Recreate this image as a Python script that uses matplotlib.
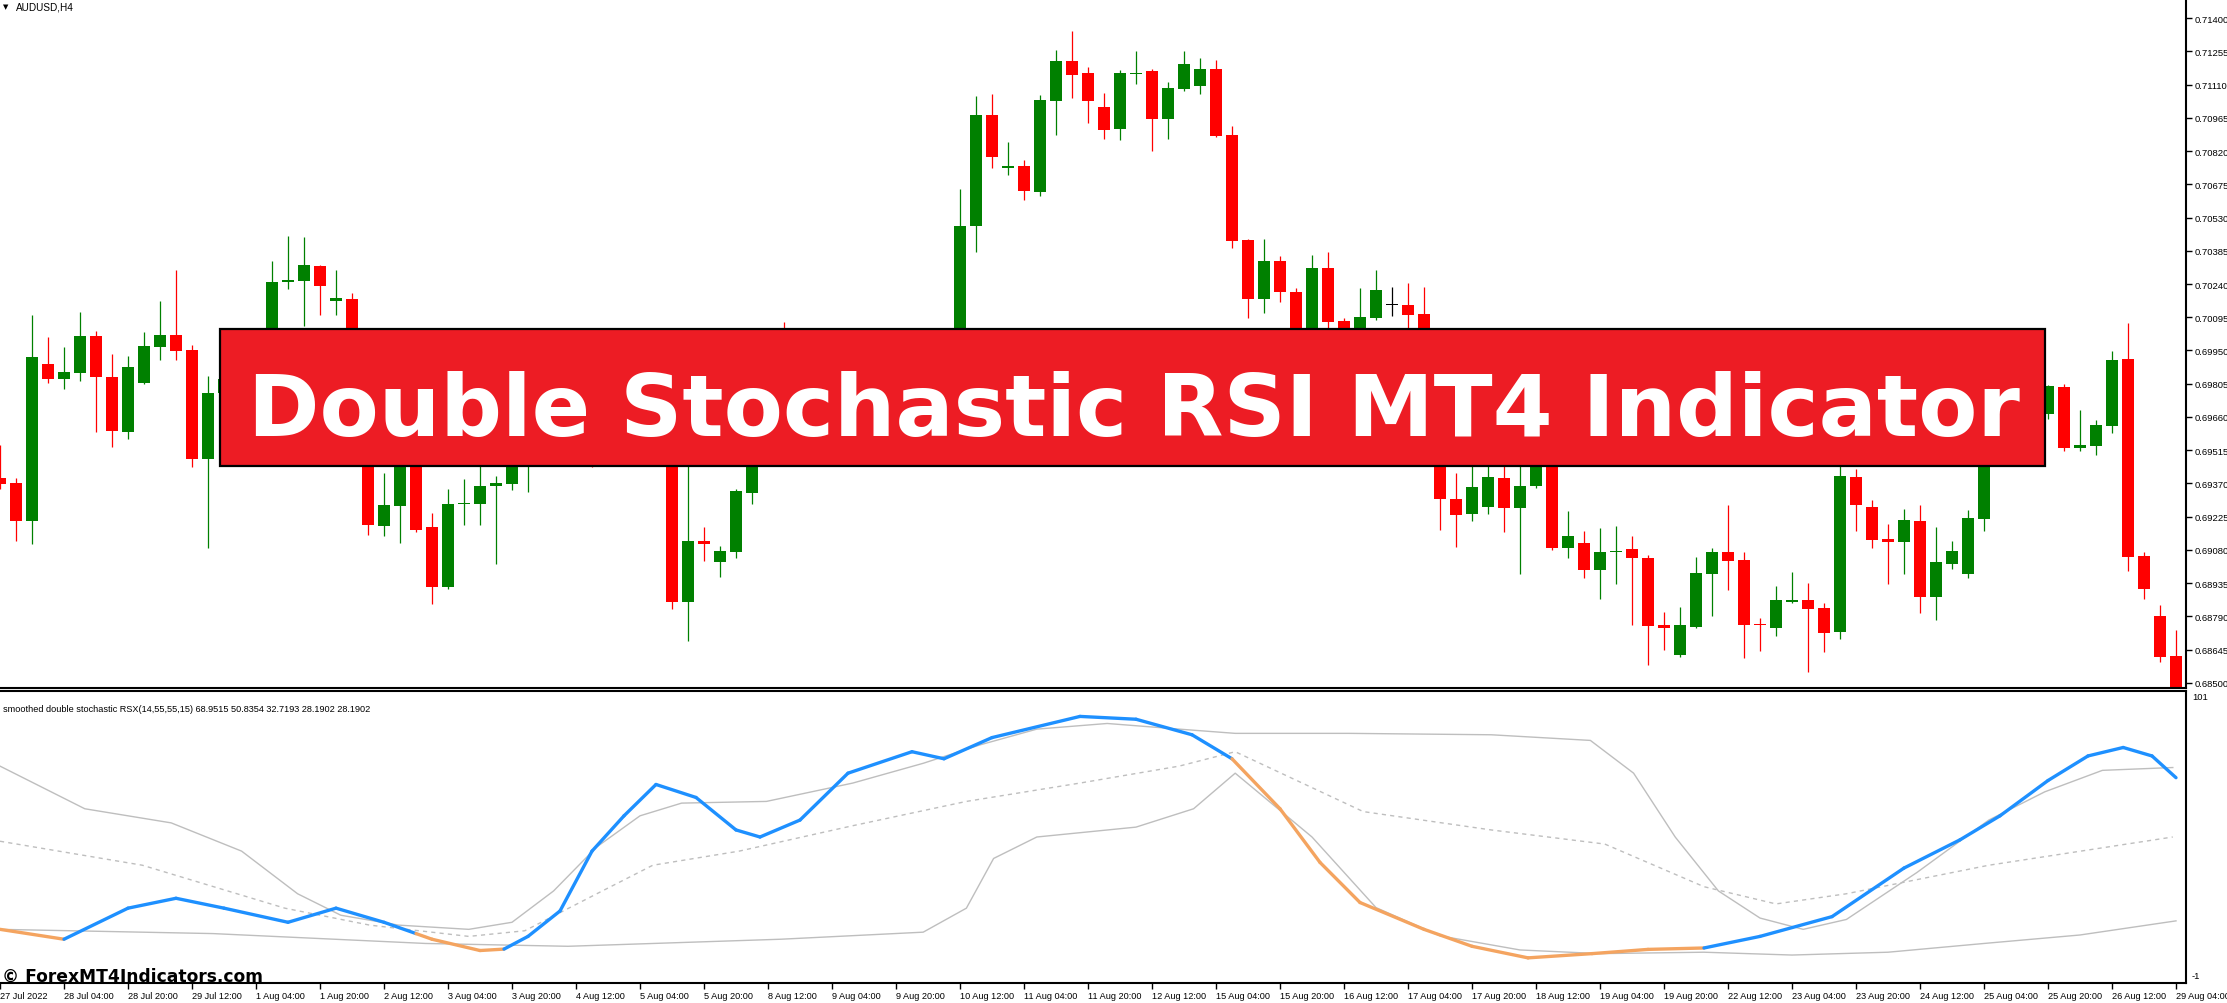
import numpy as np
import matplotlib
matplotlib.use('Agg')
import matplotlib.pyplot as plt
from matplotlib.patches import Rectangle
from matplotlib.collections import LineCollection

plt.rcParams['font.family'] = ['Liberation Sans', 'DejaVu Sans']

# AUDUSD H4, 27 Jul 2022 12:00 -> 29 Aug 2022 04:00 (137 bars)
opens = [0.69395, 0.69373, 0.69207, 0.69892, 0.69826, 0.69852, 0.70014, 0.69835, 0.69595, 0.69809,
         0.69966, 0.70018, 0.69953, 0.69477, 0.69765, 0.69826, 0.69913, 0.70001, 0.70249, 0.70254,
         0.70319, 0.70166, 0.70175, 0.69892, 0.69185, 0.69273, 0.69521, 0.69181, 0.68919, 0.69281,
         0.69281, 0.69360, 0.69368, 0.69499, 0.69608, 0.69543, 0.69674, 0.69739, 0.69652, 0.69783,
         0.69870, 0.69935, 0.69905, 0.68854, 0.69120, 0.69028, 0.69072, 0.69329, 0.69565, 0.69652,
         0.69565, 0.69695, 0.69761, 0.69695, 0.69826, 0.69761, 0.69870, 0.69804, 0.69913, 0.69848,
         0.69957, 0.70493, 0.70977, 0.70746, 0.70755, 0.70642, 0.71038, 0.71213, 0.71160, 0.71012,
         0.70916, 0.71156, 0.71169, 0.70960, 0.71091, 0.71104, 0.71178, 0.70890, 0.70432, 0.70175,
         0.70341, 0.70206, 0.69979, 0.70310, 0.70079, 0.69979, 0.70092, 0.70149, 0.70149, 0.70110,
         0.69826, 0.69303, 0.69238, 0.69268, 0.69395, 0.69264, 0.69360, 0.69565, 0.69089, 0.69111,
         0.68993, 0.69072, 0.69085, 0.69046, 0.68754, 0.68623, 0.68745, 0.68976, 0.69072, 0.69037,
         0.68758, 0.68741, 0.68854, 0.68863, 0.68828, 0.68723, 0.69399, 0.69268, 0.69129, 0.69116,
         0.69207, 0.68876, 0.69020, 0.68976, 0.69216, 0.69652, 0.69717, 0.69630, 0.69674, 0.69791,
         0.69525, 0.69534, 0.69621, 0.69913, 0.69054, 0.68793, 0.68619]
highs = [0.69538, 0.69395, 0.70105, 0.70009, 0.69966, 0.70118, 0.70035, 0.69935, 0.69926, 0.70031,
         0.70166, 0.70301, 0.69974, 0.69839, 0.69870, 0.69979, 0.70022, 0.70341, 0.70450, 0.70445,
         0.70323, 0.70301, 0.70201, 0.69922, 0.69416, 0.69565, 0.69543, 0.69242, 0.69347, 0.69390,
         0.69477, 0.69403, 0.69543, 0.69652, 0.69652, 0.69717, 0.69804, 0.69761, 0.69826, 0.69935,
         0.69979, 0.69992, 0.69957, 0.69447, 0.69181, 0.69098, 0.69347, 0.69608, 0.69695, 0.70075,
         0.69761, 0.69804, 0.69826, 0.69870, 0.69892, 0.69913, 0.69935, 0.69979, 0.69957, 0.70009,
         0.70655, 0.71060, 0.71069, 0.70860, 0.70781, 0.71064, 0.71261, 0.71344, 0.71187, 0.71073,
         0.71173, 0.71256, 0.71178, 0.71121, 0.71256, 0.71226, 0.71217, 0.70929, 0.70437, 0.70437,
         0.70363, 0.70223, 0.70367, 0.70380, 0.70092, 0.70223, 0.70301, 0.70227, 0.70245, 0.70227,
         0.69870, 0.69416, 0.69499, 0.69456, 0.69477, 0.69499, 0.69608, 0.69600, 0.69251, 0.69163,
         0.69177, 0.69185, 0.69142, 0.69059, 0.68810, 0.68832, 0.69050, 0.69089, 0.69277, 0.69072,
         0.68784, 0.68924, 0.68985, 0.68937, 0.68850, 0.69477, 0.69434, 0.69299, 0.69194, 0.69259,
         0.69277, 0.69181, 0.69120, 0.69255, 0.69695, 0.69761, 0.69748, 0.69717, 0.69800, 0.69804,
         0.69691, 0.69647, 0.69948, 0.70070, 0.69072, 0.68841, 0.68732]
lows = [0.69347, 0.69120, 0.69107, 0.69809, 0.69783, 0.69817, 0.69595, 0.69530, 0.69565, 0.69804,
        0.69909, 0.69909, 0.69442, 0.69089, 0.69695, 0.69761, 0.69848, 0.69957, 0.70219, 0.70057,
        0.70105, 0.70105, 0.69861, 0.69146, 0.69142, 0.69111, 0.69159, 0.68845, 0.68911, 0.69190,
        0.69190, 0.69020, 0.69342, 0.69333, 0.69499, 0.69512, 0.69630, 0.69442, 0.69608, 0.69748,
        0.69826, 0.69861, 0.68823, 0.68684, 0.69033, 0.68963, 0.69046, 0.69281, 0.69521, 0.69530,
        0.69512, 0.69630, 0.69652, 0.69674, 0.69739, 0.69717, 0.69761, 0.69774, 0.69804, 0.69817,
        0.69913, 0.70380, 0.70746, 0.70716, 0.70607, 0.70624, 0.70890, 0.71051, 0.70942, 0.70873,
        0.70868, 0.71112, 0.70820, 0.70873, 0.71082, 0.71069, 0.70881, 0.70397, 0.70092, 0.70114,
        0.70162, 0.69935, 0.69948, 0.70044, 0.69948, 0.69957, 0.70083, 0.70101, 0.70001, 0.69804,
        0.69168, 0.69094, 0.69207, 0.69238, 0.69159, 0.68976, 0.69351, 0.69081, 0.69046, 0.68959,
        0.68867, 0.68932, 0.68754, 0.68579, 0.68645, 0.68614, 0.68741, 0.68793, 0.68906, 0.68610,
        0.68640, 0.68706, 0.68850, 0.68549, 0.68636, 0.68693, 0.69163, 0.69089, 0.68932, 0.68976,
        0.68806, 0.68775, 0.68998, 0.68959, 0.69163, 0.69608, 0.69586, 0.69565, 0.69652, 0.69512,
        0.69512, 0.69495, 0.69591, 0.68989, 0.68867, 0.68592, 0.68470]
closes = [0.69368, 0.69207, 0.69922, 0.69826, 0.69857, 0.70014, 0.69835, 0.69600, 0.69878, 0.69970,
          0.70018, 0.69948, 0.69477, 0.69765, 0.69826, 0.69913, 0.70001, 0.70249, 0.70258, 0.70323,
          0.70232, 0.70179, 0.69892, 0.69190, 0.69277, 0.69521, 0.69168, 0.68919, 0.69281, 0.69286,
          0.69360, 0.69373, 0.69499, 0.69608, 0.69543, 0.69674, 0.69739, 0.69652, 0.69783, 0.69870,
          0.69935, 0.69905, 0.68854, 0.69120, 0.69107, 0.69076, 0.69338, 0.69565, 0.69652, 0.69565,
          0.69695, 0.69761, 0.69695, 0.69826, 0.69761, 0.69870, 0.69804, 0.69913, 0.69848, 0.69957,
          0.70493, 0.70977, 0.70794, 0.70755, 0.70646, 0.71043, 0.71213, 0.71152, 0.71038, 0.70912,
          0.71160, 0.71160, 0.70960, 0.71095, 0.71200, 0.71178, 0.70886, 0.70428, 0.70175, 0.70341,
          0.70206, 0.69979, 0.70310, 0.70075, 0.69979, 0.70096, 0.70214, 0.70149, 0.70105, 0.69826,
          0.69303, 0.69233, 0.69355, 0.69399, 0.69264, 0.69360, 0.69565, 0.69089, 0.69142, 0.68993,
          0.69072, 0.69076, 0.69046, 0.68749, 0.68741, 0.68754, 0.68980, 0.69072, 0.69033, 0.68754,
          0.68754, 0.68863, 0.68863, 0.68823, 0.68719, 0.69403, 0.69277, 0.69124, 0.69116, 0.69211,
          0.68876, 0.69028, 0.69076, 0.69220, 0.69652, 0.69717, 0.69630, 0.69674, 0.69796, 0.69525,
          0.69538, 0.69626, 0.69909, 0.69050, 0.68911, 0.68614, 0.68470]

price_ticks = [0.68500, 0.68645, 0.68790, 0.68935, 0.69080, 0.69225, 0.69370, 0.69515, 0.69660,
               0.69805, 0.69950, 0.70095, 0.70240, 0.70385, 0.70530, 0.70675, 0.70820, 0.70965,
               0.71110, 0.71255, 0.71400]

time_labels = ['27 Jul 2022', '28 Jul 04:00', '28 Jul 20:00', '29 Jul 12:00', '1 Aug 04:00',
               '1 Aug 20:00', '2 Aug 12:00', '3 Aug 04:00', '3 Aug 20:00', '4 Aug 12:00',
               '5 Aug 04:00', '5 Aug 20:00', '8 Aug 12:00', '9 Aug 04:00', '9 Aug 20:00',
               '10 Aug 12:00', '11 Aug 04:00', '11 Aug 20:00', '12 Aug 12:00', '15 Aug 04:00',
               '15 Aug 20:00', '16 Aug 12:00', '17 Aug 04:00', '17 Aug 20:00', '18 Aug 12:00',
               '19 Aug 04:00', '19 Aug 20:00', '22 Aug 12:00', '23 Aug 04:00', '23 Aug 20:00',
               '24 Aug 12:00', '25 Aug 04:00', '25 Aug 20:00', '26 Aug 12:00', '29 Aug 04:00']

# smoothed double stochastic RSX (bar position, value)
main_x = [0, 4, 8, 11, 14, 18, 21, 24, 26, 27, 30, 31.5, 33, 35, 37, 39, 41, 43.5, 46, 47.5,
          50, 53, 57, 59, 62, 67.5, 71, 74.5, 77, 80, 82.5, 85, 89, 92, 95.5, 99.5, 103, 106.5,
          110, 114.5, 119, 122.5, 125, 128, 130.5, 132.7, 134.5, 136]
main_v = [17.3, 13.8, 24.8, 28.3, 24.8, 19.8, 24.8, 19.8, 15.8, 13.8, 9.8, 10.3, 14.8, 23.8, 45,
          57.5, 68.6, 64, 52.5, 50, 56, 72.6, 80.2, 77.7, 85.2, 92.7, 91.7, 86.2, 77.7, 60, 41,
          26.8, 17.3, 11.3, 7.2, 8.7, 10.2, 10.7, 14.8, 21.8, 39, 49, 57.5, 70, 78.7, 81.7, 78.7, 71]
down_spans = [(0, 4), (26, 31.5), (77, 106.5)]

upper_x = [0, 5.3, 10.7, 15.1, 18.6, 21.3, 24.9, 29.3, 32, 34.6, 37.3, 40, 42.6, 47.9, 53.3, 57.7,
           61.3, 64.8, 69.2, 73.7, 77.2, 84.3, 93.2, 99.4, 102.1, 104.7, 107.4, 110, 112.7, 115.4,
           119.8, 124.3, 127.8, 131.4, 135.8]
upper_v = [75.1, 60, 55, 45, 29.9, 22.3, 18.8, 17.3, 19.8, 30.9, 46.5, 57.5, 62, 62.6, 69.1, 76.1,
           82.7, 88.2, 90.2, 88.2, 86.7, 86.7, 86.2, 84.2, 72.6, 50, 30.9, 21.3, 17.3, 20.8, 37.4,
           56, 66, 73.6, 74.6]

mid_x = [0, 8.9, 17.8, 23.1, 29.3, 32.8, 37.3, 40.8, 46.2, 53.3, 60.4, 67.5, 73.7, 77.2, 85.2,
         93.2, 100.3, 106.5, 111, 115.4, 124.3, 135.8]
mid_v = [48.5, 40, 24.8, 18.8, 14.8, 16.8, 29.9, 40, 45, 54, 62.6, 69.1, 75.1, 80.2, 59, 52.5,
         47.5, 32.4, 26.3, 29.9, 40, 50]

lower_x = [0, 13.3, 26.6, 35.5, 48.8, 57.7, 60.4, 62.1, 64.8, 71, 74.6, 77.2, 82, 86, 90, 95,
           100, 106.5, 112, 118, 124, 130, 136]
lower_v = [17.3, 15.8, 12.3, 11.3, 13.8, 16.3, 24.8, 42.4, 50, 53.5, 60, 72.6, 50, 25, 15, 10,
           8.7, 9.2, 8.2, 9.2, 12.3, 15.3, 20.3]

W, H = 2227, 1004
fig = plt.figure(figsize=(W / 100, H / 100), dpi=100)
fig.patch.set_facecolor('white')


def fx(px):
    return px / W


def fy(py):
    return 1 - py / H


ax = fig.add_axes([0, fy(689), fx(2186), 689 / H])
ind = fig.add_axes([0, fy(984), fx(2186), (984 - 692) / H])
xmax = 2186 / 16

# candles
o = np.array(opens)
h = np.array(highs)
l = np.array(lows)
c = np.array(closes)
x = np.arange(len(o))
cols = np.where(c > o, '#008000', np.where(c < o, '#FF0000', '#000000'))
ax.vlines(x, l, h, colors=cols, linewidth=0.9)
ax.bar(x, np.maximum(np.abs(c - o), 0.00005), bottom=np.minimum(o, c), width=0.69,
       color=cols, linewidth=0)
ax.set_xlim(0, xmax)
ax.set_ylim(0.68478, 0.71483)
ax.set_xticks([])
ax.yaxis.tick_right()
ax.set_yticks(price_ticks)
ax.set_yticklabels(['%.5f' % v for v in price_ticks])
ax.tick_params(axis='y', length=4, width=1, pad=2, labelsize=6.8)
for s in ['left', 'top']:
    ax.spines[s].set_visible(False)
for s in ['right', 'bottom']:
    ax.spines[s].set_linewidth(1.5)

# indicator
ind.plot(upper_x, upper_v, color='#BEBEBE', lw=1.0)
ind.plot(lower_x, lower_v, color='#BEBEBE', lw=1.0)
ind.plot(mid_x, mid_v, color='#BEBEBE', lw=1.0, ls=(0, (3, 3)))
segs, seg_cols = [], []
for i in range(len(main_x) - 1):
    segs.append([(main_x[i], main_v[i]), (main_x[i + 1], main_v[i + 1])])
    down = any(a <= main_x[i] < b for a, b in down_spans)
    seg_cols.append('#F4A460' if down else '#1E90FF')
ind.add_collection(LineCollection(segs, colors=seg_cols, linewidths=2.4, capstyle='round'))
ind.set_xlim(0, xmax)
ind.set_ylim(-1.7, 101.7)
ind.set_yticks([])
ind.set_xticks(np.arange(len(time_labels)) * 4)
ind.set_xticklabels(time_labels, ha='left')
ind.tick_params(axis='x', length=4, width=1, pad=2, labelsize=6.6)
ind.spines['left'].set_visible(False)
for s in ['right', 'bottom', 'top']:
    ind.spines[s].set_linewidth(1.5)

fig.text(fx(2192), fy(698), '101', fontsize=6.8, va='center')
fig.text(fx(2192), fy(977), '-1', fontsize=6.8, va='center')

# header texts
fig.text(fx(3), fy(7), '\u25bc', fontsize=5, va='center', family='DejaVu Sans')
fig.text(fx(16), fy(7), 'AUDUSD,H4', fontsize=7.2, va='center')
lab = fig.text(fx(3), fy(709),
               'smoothed double stochastic RSX(14,55,55,15) 68.9515 50.8354 32.7193 28.1902 28.1902',
               fontsize=7, va='center')

# banner
fig.add_artist(Rectangle((fx(220), fy(467)), (2045 - 220) / W, (467 - 330) / H,
                         transform=fig.transFigure, facecolor='#ED1C24', edgecolor='black',
                         linewidth=1.6, zorder=5))
title = fig.text(fx(1134), fy(436), 'Double Stochastic RSI MT4 Indicator', ha='center',
                 va='baseline', color='white', fontweight='bold', family='DejaVu Sans',
                 fontsize=70, zorder=6)
wm = fig.text(fx(2), fy(982), '\u00a9 ForexMT4Indicators.com', ha='left', va='baseline',
              color='black', fontweight='bold', family='DejaVu Sans', fontsize=13, zorder=6)

r = fig.canvas.get_renderer()
title.set_fontsize(70 * 1772 / title.get_window_extent(r).width)
wm.set_fontsize(13 * 260 / wm.get_window_extent(r).width)
lab.set_fontsize(7 * 367 / lab.get_window_extent(r).width)

fig.savefig('out.png', dpi=100, facecolor='white')
